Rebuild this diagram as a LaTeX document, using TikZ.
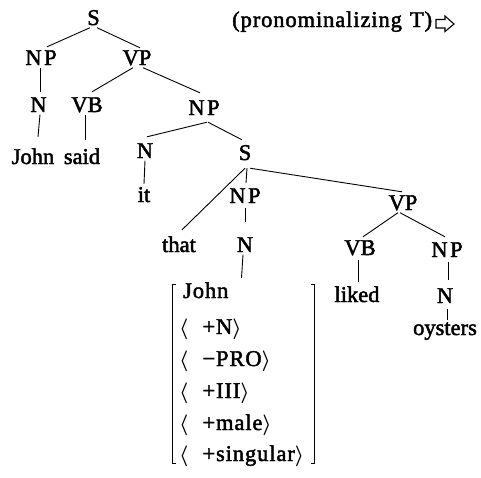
\documentclass[tikz,border=0pt]{standalone}
\usepackage{fontspec}
\setmainfont{Liberation Serif}[FakeBold=2]
\newfontfamily\wideserif{Liberation Serif}[FakeBold=2,LetterSpace=4]
\newcommand\NPtxt{N\kern2.5pt P}
\begin{document}
\begin{tikzpicture}[x=1pt,y=-1pt,
  lab/.style={anchor=base,inner xsep=0pt,inner ysep=2.5pt,text height=15.5pt,text depth=0pt,
              font=\fontsize{22.5}{27}\selectfont},
  row/.style={anchor=base west,inner sep=0pt,font=\fontsize{22.5}{27}\selectfont\wideserif\boldmath},
  edge/.style={line width=0.9pt}]
\useasboundingbox (0,0) rectangle (481,477);

% labels of the tree
\node[lab] (S1) at (93.5,25) {S};
\node[lab] (NPa) at (41,65) {\NPtxt};
\node[lab] (VPa) at (137,65) {VP};
\node[lab] (Na) at (38.5,112) {N};
\node[lab] (VBa) at (87,112) {VB};
\node[lab] (NPb) at (204,115) {\NPtxt};
\node[lab] (Johna) at (33,164) {John};
\node[lab] (said) at (82,164) {said};
\node[lab] (Nb) at (145,158) {N};
\node[lab] (S2) at (245,160) {S};
\node[lab] (it) at (144,202) {it};
\node[lab] (NPc) at (245,203) {\NPtxt};
\node[lab] (VPc) at (403,210) {VP};
\node[lab] (that) at (179,252) {that};
\node[lab] (Nc) at (245,252) {N};
\node[lab] (VBc) at (360,255) {VB};
\node[lab] (NPd) at (447,257) {\NPtxt};
\node[lab] (liked) at (357,302) {liked};
\node[lab] (Nd) at (445,303) {N};
\node[lab] (oysters) at (445,335) {oysters};

% transformation label with its outlined arrow
\node[lab,anchor=base west,font=\fontsize{22.5}{27}\selectfont\wideserif] (title) at (232,27)
  {(pronominalizing\hspace{8pt}T)};
\draw[line width=1.1pt,line join=miter] (436,19.5) -- (445,19.5) -- (445,16) -- (454,24)
  -- (445,31.5) -- (445,28) -- (436,28) -- cycle;

% feature matrix
\node[minimum width=141pt,minimum height=178pt,inner sep=0pt] (feat) at (243.5,374) {};
\draw[edge] ([xshift=3pt]feat.north west) -- (feat.north west) -- (feat.south west) -- ([xshift=3pt]feat.south west);
\draw[edge] ([xshift=-3pt]feat.north east) -- (feat.north east) -- (feat.south east) -- ([xshift=-3pt]feat.south east);
\node[row] (f1) at (183,298) {John};
\node[row] (f2) at (179,334) {$\langle$\hspace{14pt}+N$\rangle$};
\node[row] (f3) at (179,366) {$\langle$\hspace{14pt}−PRO$\rangle$};
\node[row] (f4) at (179,398) {$\langle$\hspace{14pt}+III$\rangle$};
\node[row] (f5) at (179,430) {$\langle$\hspace{14pt}+male$\rangle$};
\node[row] (f6) at (179,461) {$\langle$\hspace{14pt}+singular$\rangle$};

% branches
\draw[edge] ([xshift=-3.5pt]S1.south) -- ([xshift=6pt]NPa.north);
\draw[edge] ([xshift=3.5pt]S1.south) -- ([xshift=3pt,yshift=-1pt]VPa.north);
\draw[edge] ([xshift=-1pt]NPa.south) -- ([xshift=1.5pt,yshift=2pt]Na.north);
\draw[edge] ([xshift=1.5pt]Na.south) -- ([xshift=5pt,yshift=9pt]Johna.north);
\draw[edge] ([xshift=-4pt]VPa.south) -- ([xshift=5pt,yshift=2pt]VBa.north);
\draw[edge] ([xshift=6pt]VPa.south) -- ([xshift=-4pt,yshift=4pt]NPb.north);
\draw[edge] ([xshift=-2pt]VBa.south) -- ([xshift=3pt,yshift=6pt]said.north);
\draw[edge] ([xshift=3pt,yshift=-4.5pt]NPb.south) -- ([xshift=2pt,yshift=3pt]Nb.north);
\draw[edge] ([xshift=4pt,yshift=-4.5pt]NPb.south) -- ([xshift=-3pt,yshift=2pt]S2.north);
\draw[edge] (Nb.south) -- (it.north);
\draw[edge] ([yshift=-5.5pt]S2.south) -- ([xshift=3pt,yshift=4pt]that.north);
\draw[edge] ([xshift=2pt,yshift=-5.5pt]S2.south) -- ([xshift=1pt,yshift=2pt]NPc.north);
\draw[edge] ([xshift=5pt,yshift=-5.5pt]S2.south) -- ([xshift=-1pt]VPc.north);
\draw[edge] ([yshift=-2.5pt]NPc.south) -- ([yshift=12pt]Nc.north);
\draw[edge] ([xshift=-2pt]Nc.south) -- ([xshift=-2pt,yshift=7pt]feat.north);
\draw[edge] ([xshift=-5pt]VPc.south) -- ([xshift=3pt]VBc.north);
\draw[edge] ([xshift=-3pt]VPc.south) -- ([xshift=-2pt,yshift=2pt]NPd.north);
\draw[edge] ([xshift=-2pt,yshift=-2.5pt]VBc.south) -- ([xshift=1pt,yshift=2pt]liked.north);
\draw[edge] ([xshift=1pt,yshift=-2.5pt]NPd.south) -- ([xshift=3pt,yshift=5pt]Nd.north);
\draw[edge] ([xshift=2pt,yshift=-3.5pt]Nd.south) -- ([xshift=2pt,yshift=-3pt]oysters.north);
\end{tikzpicture}
\end{document}
